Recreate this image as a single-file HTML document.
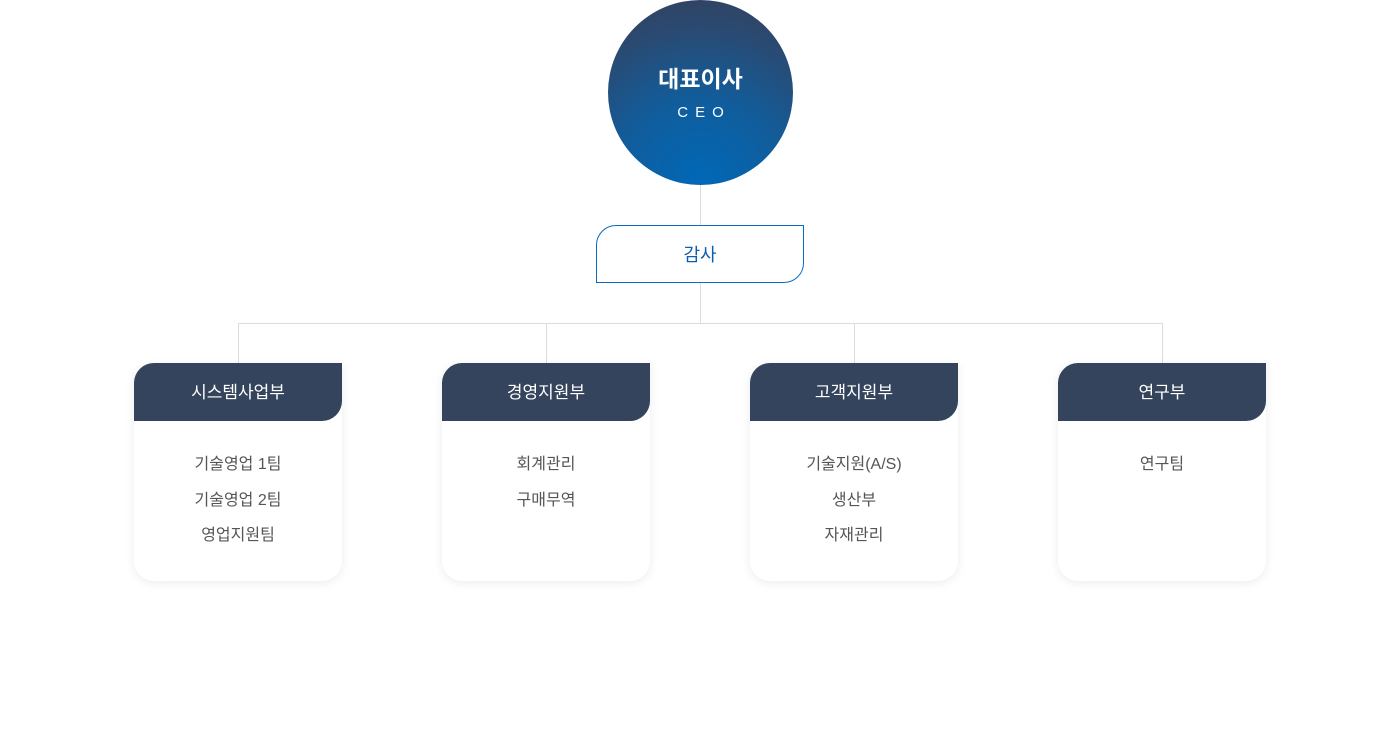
<!DOCTYPE html>
<html><head><meta charset="utf-8"><style>
body{margin:0;width:1400px;height:731px;background:#fff;position:relative;font-family:"Liberation Sans","Noto Sans CJK KR",sans-serif;overflow:hidden}
.ab{position:absolute}
.l{position:absolute;background:#dcdcdc}
.circle{left:608px;top:0;width:185px;height:185px;border-radius:50%;background:radial-gradient(circle at 50% 98%,#0068b7 0%,#115d9c 40%,#2a4a72 75%,#343f59 100%);color:#fff;text-align:center}
.circle .t{position:absolute;top:60px;width:100%;font-size:23px;font-weight:bold}
.circle .s{position:absolute;top:104px;width:100%;font-size:15px;letter-spacing:7px;padding-left:7px;box-sizing:border-box}
.audit{left:596px;top:225px;width:206px;height:56px;border:1px solid #0a6abf;border-radius:20px 0 20px 0;color:#0a5fae;font-size:18px;text-align:center;line-height:58px}
.card{position:absolute;top:363px;width:208px;height:218px;background:#fff;border-radius:20px 0 20px 20px;box-shadow:0 2px 10px rgba(0,0,0,0.08)}
.card .h{height:58px;background:#34445d;border-radius:20px 0 20px 0;color:#fff;font-size:17px;text-align:center;line-height:60px}
.card .it{text-align:center;color:#555;font-size:16px;line-height:35.5px;padding-top:26px}
</style></head><body>
<div class="ab circle"><div class="t">대표이사</div><div class="s">CEO</div></div>
<div class="l" style="left:700px;top:185px;width:1px;height:40px"></div>
<div class="ab audit">감사</div>
<div class="l" style="left:700px;top:283px;width:1px;height:40px"></div>
<div class="l" style="left:238px;top:323px;width:925px;height:1px"></div>
<div class="l" style="left:238px;top:323px;width:1px;height:40px"></div>
<div class="l" style="left:546px;top:323px;width:1px;height:40px"></div>
<div class="l" style="left:854px;top:323px;width:1px;height:40px"></div>
<div class="l" style="left:1162px;top:323px;width:1px;height:40px"></div>
<div class="card" style="left:134px"><div class="h">시스템사업부</div><div class="it">기술영업 1팀<br>기술영업 2팀<br>영업지원팀</div></div>
<div class="card" style="left:442px"><div class="h">경영지원부</div><div class="it">회계관리<br>구매무역</div></div>
<div class="card" style="left:750px"><div class="h">고객지원부</div><div class="it">기술지원(A/S)<br>생산부<br>자재관리</div></div>
<div class="card" style="left:1058px"><div class="h">연구부</div><div class="it">연구팀</div></div>
</body></html>
